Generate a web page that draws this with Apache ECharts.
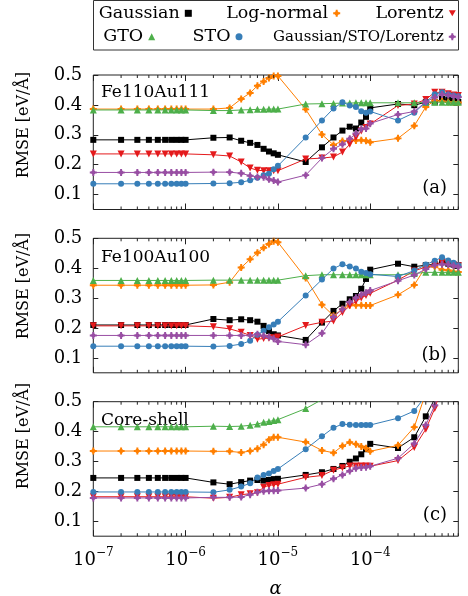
<!DOCTYPE html>
<html><head><meta charset="utf-8">
<script src="https://cdn.jsdelivr.net/npm/echarts@6/dist/echarts.min.js"></script>
<style>html,body{margin:0;padding:0;background:#fff}#c{width:468px;height:596px}</style>
</head><body><div id="c"></div>
<script>
// x values (alpha)
const alpha = [1e-7,2e-7,3e-7,4e-7,5e-7,6e-7,7e-7,8e-7,9e-7,
               1e-6,2e-6,3e-6,4e-6,5e-6,6e-6,7e-6,8e-6,9e-6,
               1e-5,2e-5,3e-5,4e-5,5e-5,6e-5,7e-5,8e-5,9e-5,
               1e-4,2e-4,3e-4,4e-4,5e-4,6e-4,7e-4,8e-4,9e-4];
const xTickExp = [-7,-6,-5,-4];
const yTicks = [0.1,0.2,0.3,0.4,0.5];
const seriesNames = ['Gaussian','Log-normal','Lorentz','GTO','STO','Gaussian/STO/Lorentz'];
const panelNames = ['Fe110Au111','Fe100Au100','Core-shell'];
const panelTags = ['(a)','(b)','(c)'];

// Panel (a) Fe110Au111
const a_gaussian = [0.283,0.283,0.283,0.283,0.283,0.283,0.283,0.283,0.283,
  0.283,0.290,0.291,0.280,0.273,0.266,0.253,0.244,0.238,
  0.233,0.209,0.258,0.291,0.314,0.327,0.321,0.341,0.360,
  0.390,0.403,0.399,0.409,0.409,0.420,0.418,0.414,0.410];
const a_lognormal = [0.386,0.386,0.386,0.386,0.386,0.386,0.386,0.386,0.386,
  0.386,0.386,0.390,0.420,0.440,0.464,0.478,0.490,0.497,
  0.497,0.385,0.301,0.266,0.279,0.283,0.281,0.282,0.280,
  0.275,0.288,0.330,0.393,0.415,0.412,0.410,0.408,0.408];
const a_lorentz = [0.236,0.236,0.236,0.236,0.236,0.236,0.236,0.236,0.236,
  0.236,0.233,0.229,0.209,0.189,0.181,0.180,0.180,0.180,
  0.180,0.219,0.222,0.226,0.242,0.268,0.291,0.313,0.324,
  0.336,0.398,0.403,0.418,0.442,0.442,0.437,0.433,0.431];
const a_gto = [0.383,0.383,0.383,0.383,0.383,0.383,0.383,0.383,0.383,
  0.383,0.381,0.381,0.383,0.384,0.385,0.385,0.386,0.386,
  0.386,0.403,0.404,0.405,0.406,0.406,0.407,0.407,0.407,
  0.407,0.407,0.407,0.408,0.409,0.409,0.409,0.409,0.409];
const a_sto = [0.136,0.136,0.136,0.136,0.136,0.136,0.136,0.136,0.136,
  0.136,0.137,0.138,0.141,0.148,0.156,0.165,0.170,0.185,
  0.196,0.291,0.348,0.388,0.409,0.398,0.393,0.379,0.374,
  0.378,0.348,0.374,0.409,0.436,0.442,0.435,0.431,0.429];
const a_gsl = [0.174,0.174,0.174,0.174,0.174,0.174,0.174,0.174,0.174,
  0.174,0.175,0.175,0.171,0.163,0.159,0.158,0.151,0.147,
  0.142,0.165,0.222,0.253,0.268,0.287,0.304,0.319,0.321,
  0.338,0.368,0.378,0.410,0.425,0.435,0.433,0.429,0.426];

// Panel (b) Fe100Au100
const b_gaussian = [0.210,0.210,0.210,0.210,0.210,0.210,0.210,0.210,0.210,
  0.210,0.230,0.226,0.229,0.226,0.221,0.207,0.190,0.179,
  0.175,0.160,0.218,0.257,0.281,0.296,0.307,0.331,0.364,
  0.395,0.415,0.405,0.410,0.413,0.420,0.415,0.412,0.410];
const b_lognormal = [0.343,0.343,0.343,0.343,0.343,0.343,0.343,0.343,0.343,
  0.343,0.344,0.353,0.402,0.430,0.452,0.468,0.481,0.490,
  0.487,0.367,0.278,0.241,0.263,0.276,0.276,0.276,0.275,
  0.275,0.311,0.344,0.405,0.405,0.395,0.393,0.388,0.387];
const b_lorentz = [0.207,0.207,0.207,0.207,0.207,0.207,0.207,0.207,0.207,
  0.207,0.204,0.197,0.186,0.175,0.162,0.165,0.166,0.167,
  0.170,0.208,0.219,0.223,0.252,0.274,0.289,0.300,0.309,
  0.316,0.360,0.391,0.404,0.411,0.419,0.415,0.411,0.408];
const b_gto = [0.359,0.359,0.359,0.359,0.359,0.359,0.359,0.359,0.359,
  0.359,0.360,0.360,0.360,0.360,0.360,0.360,0.360,0.360,
  0.360,0.375,0.378,0.378,0.378,0.378,0.378,0.378,0.378,
  0.378,0.378,0.382,0.386,0.386,0.386,0.386,0.386,0.386];
const b_sto = [0.139,0.139,0.139,0.139,0.139,0.139,0.139,0.139,0.139,
  0.139,0.138,0.140,0.146,0.157,0.177,0.191,0.202,0.212,
  0.221,0.309,0.362,0.399,0.413,0.406,0.399,0.388,0.384,
  0.380,0.372,0.392,0.412,0.425,0.437,0.426,0.418,0.410];
const b_gsl = [0.175,0.175,0.175,0.175,0.175,0.175,0.175,0.175,0.175,
  0.175,0.175,0.175,0.175,0.175,0.179,0.174,0.170,0.164,
  0.155,0.144,0.182,0.237,0.263,0.287,0.301,0.311,0.318,
  0.325,0.358,0.377,0.397,0.410,0.413,0.412,0.408,0.404];

// Panel (c) Core-shell
const c_gaussian = [0.245,0.245,0.245,0.245,0.245,0.245,0.245,0.245,0.245,
  0.245,0.230,0.224,0.231,0.236,0.238,0.236,0.238,0.241,
  0.242,0.255,0.264,0.275,0.285,0.299,0.310,0.324,0.341,
  0.359,0.345,0.381,0.451,0.510,0.580,0.630,0.680,0.720];
const c_lognormal = [0.335,0.335,0.335,0.335,0.335,0.335,0.335,0.335,0.335,
  0.335,0.334,0.334,0.330,0.335,0.343,0.356,0.373,0.381,
  0.381,0.365,0.337,0.329,0.352,0.364,0.358,0.350,0.344,
  0.334,0.354,0.415,0.530,0.600,0.650,0.690,0.720,0.750];
const c_lorentz = [0.182,0.182,0.182,0.182,0.182,0.182,0.182,0.182,0.182,
  0.182,0.177,0.180,0.189,0.192,0.195,0.214,0.220,0.222,
  0.224,0.247,0.253,0.271,0.279,0.285,0.285,0.285,0.285,
  0.284,0.303,0.347,0.408,0.477,0.550,0.600,0.650,0.700];
const c_gto = [0.416,0.416,0.416,0.416,0.416,0.416,0.416,0.416,0.416,
  0.416,0.418,0.417,0.418,0.421,0.425,0.431,0.434,0.437,
  0.440,0.477,0.507,0.530,0.545,0.560,0.570,0.580,0.590,
  0.600,0.660,0.700,0.740,0.770,0.800,0.820,0.840,0.860];
const c_sto = [0.198,0.198,0.198,0.198,0.198,0.198,0.198,0.198,0.198,
  0.198,0.197,0.205,0.216,0.227,0.246,0.255,0.260,0.268,
  0.275,0.341,0.384,0.413,0.425,0.423,0.422,0.422,0.422,
  0.422,0.445,0.469,0.520,0.580,0.630,0.670,0.700,0.730];
const c_gsl = [0.178,0.178,0.178,0.178,0.178,0.178,0.178,0.178,0.178,
  0.178,0.180,0.180,0.181,0.189,0.197,0.200,0.202,0.202,
  0.203,0.211,0.224,0.242,0.255,0.268,0.277,0.280,0.281,
  0.284,0.311,0.360,0.422,0.488,0.560,0.610,0.660,0.700];

const panels = [
  [a_gaussian,a_lognormal,a_lorentz,a_gto,a_sto,a_gsl],
  [b_gaussian,b_lognormal,b_lorentz,b_gto,b_sto,b_gsl],
  [c_gaussian,c_lognormal,c_lorentz,c_gto,c_sto,c_gsl]
];

const FONT = 'DejaVu Serif';
const colors = ['#000000','#ff7f00','#e41a1c','#4daf4a','#377eb8','#984ea3'];
const crossDiamond = 'path://M50,6L94,50L50,94L6,50Z M36,0H64V100H36Z M0,36H100V64H0Z';
const triDown = 'path://M0,0L100,0L50,87Z';
const symbols = ['rect', crossDiamond, triDown, 'triangle', 'circle', crossDiamond];
const symSizes = [6, 7, 7, 7, 6, 7];

const xMin = -7, xMax = Math.log10(9e-4), yMin = 0.05, yMax = 0.5;
const gridTops = [75, 238.3, 401.7];
const gridH = 134.5;
const gLeft = 93.3, gRight = 9.7;

// minor tick positions (axis decoration)
const minorTicks = [];
xTickExp.forEach(n => { for (let k = 2; k <= 9; k++) minorTicks.push([Math.log10(k) + n, 0.3]); });

const grid = [], xAxis = [], yAxis = [], series = [];
gridTops.forEach((t, i) => {
  grid.push({left: gLeft, right: gRight, top: t, height: gridH, show: true,
    borderColor: '#222', borderWidth: 1, backgroundColor: 'transparent'});
  ['bottom','top'].forEach(pos => {
    xAxis.push({gridIndex: i, type: 'value', position: pos, min: xMin, max: xMax,
      axisLine: {show: false}, splitLine: {show: false},
      axisTick: {show: true, inside: true, length: 6, customValues: xTickExp, lineStyle: {color: '#222', width: 1}},
      axisLabel: {show: pos === 'bottom' && i === 2, customValues: xTickExp, margin: 11,
        formatter: v => '{b|10}{s|\u2212' + (-Math.round(v)) + '}',
        rich: {b: {fontFamily: FONT, fontSize: 18, color: '#000', lineHeight: 26},
               s: {fontFamily: FONT, fontSize: 12, color: '#000', lineHeight: 12, verticalAlign: 'top'}}}
    });
  });
  ['left','right'].forEach(pos => {
    yAxis.push({gridIndex: i, type: 'value', position: pos, min: yMin, max: yMax,
      axisLine: {show: false}, splitLine: {show: false},
      axisTick: {show: true, inside: true, length: 5, customValues: yTicks, lineStyle: {color: '#222', width: 1}},
      axisLabel: {show: pos === 'left', customValues: yTicks, margin: 11,
        formatter: v => v.toFixed(1), fontFamily: FONT, fontSize: 18, color: '#000'}
    });
  });
  panels[i].forEach((vals, s) => {
    series.push({type: 'line', name: seriesNames[s], xAxisIndex: 2*i, yAxisIndex: 2*i,
      data: alpha.map((a, k) => [Math.log10(a), vals[k]]),
      symbol: symbols[s], symbolSize: symSizes[s], showSymbol: true, clip: true,
      itemStyle: {color: colors[s]}, lineStyle: {color: colors[s], width: 1},
      emphasis: {disabled: true}, animation: false, z: 2 + s});
  });
  series.push({type: 'custom', name: 'minor' + i, xAxisIndex: 2*i, yAxisIndex: 2*i, silent: true,
    data: minorTicks, animation: false, z: 10,
    renderItem: (params, api) => {
      const x = api.value(0);
      const b = api.coord([x, yMin]), tp = api.coord([x, yMax]);
      return {type: 'group', children: [
        {type: 'line', shape: {x1: b[0], y1: b[1], x2: b[0], y2: b[1] - 3}, style: {stroke: '#222', lineWidth: 1}},
        {type: 'line', shape: {x1: tp[0], y1: tp[1], x2: tp[0], y2: tp[1] + 3}, style: {stroke: '#222', lineWidth: 1}}
      ]};
    }});
});

// legends: one per entry, icon to the right of the text
const legendIcons = ['rect', crossDiamond, triDown, 'triangle', 'circle', crossDiamond];
const legendPos = [
  {right: 276.2, top: 3.3, fs: 17.5}, {right: 127.8, top: 3.3, fs: 17.5}, {right: 12.2, top: 3.3, fs: 17.5},
  {right: 312.8, top: 26.7, fs: 17.5}, {right: 225.5, top: 26.7, fs: 17.5}, {right: 12.2, top: 26.7, fs: 15}
];
const legend = seriesNames.map((n, s) => ({
  data: [{name: n, icon: legendIcons[s]}], align: 'right', orient: 'horizontal',
  right: legendPos[s].right, top: legendPos[s].top, padding: 0, itemWidth: 7, itemHeight: 7,
  selectedMode: false,
  textStyle: {fontFamily: FONT, fontSize: legendPos[s].fs, color: '#000', lineHeight: 20}
}));

const graphic = [
  {type: 'rect', shape: {x: 93.5, y: 0.5, width: 365, height: 49.5}, style: {fill: 'none', stroke: '#333', lineWidth: 1}, silent: true}
];
const labelY = [93, 257.5, 420.5];
const tagY = [188, 355, 515];
const titleY = [125, 286, 436];
for (let i = 0; i < 3; i++) {
  graphic.push({type: 'text', x: 101, y: labelY[i], silent: true,
    style: {text: panelNames[i], font: '17px "DejaVu Serif"', fill: '#000', align: 'left', verticalAlign: 'middle', textAlign: 'left', textVerticalAlign: 'middle'}});
  graphic.push({type: 'text', x: 447, y: tagY[i], silent: true,
    style: {text: panelTags[i], font: '18px "DejaVu Serif"', fill: '#000', align: 'right', verticalAlign: 'middle', textAlign: 'right', textVerticalAlign: 'middle'}});
  graphic.push({type: 'text', x: 24, y: titleY[i], rotation: Math.PI / 2, silent: true,
    style: {text: 'RMSE [eV/\u00c5]', font: '16px "DejaVu Serif"', fill: '#000', align: 'center', verticalAlign: 'middle', textAlign: 'center', textVerticalAlign: 'middle'}});
}
graphic.push({type: 'text', x: 275.7, y: 589, silent: true,
  style: {text: '\u03b1', font: 'italic 18px "DejaVu Serif"', fill: '#000', align: 'center', verticalAlign: 'middle', textAlign: 'center', textVerticalAlign: 'middle'}});

const chart = echarts.init(document.getElementById('c'), null, {renderer: 'canvas'});
chart.setOption({animation: false, backgroundColor: '#fff', grid, xAxis, yAxis, series, legend, graphic});
</script></body></html>
